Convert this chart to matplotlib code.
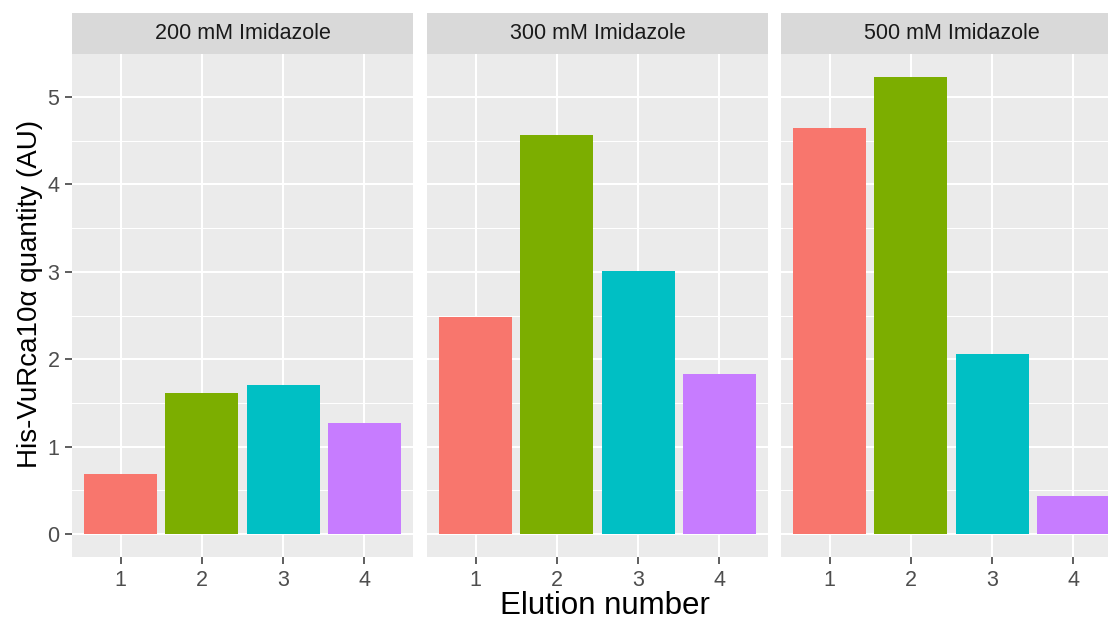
import numpy as np
import matplotlib
matplotlib.use("Agg")
import matplotlib.pyplot as plt

plt.rcParams['font.family'] = ['Liberation Sans', 'DejaVu Sans']

# data
panels = ['200 mM Imidazole', '300 mM Imidazole', '500 mM Imidazole']
elution = [1, 2, 3, 4]
vals_200 = [0.69, 1.61, 1.71, 1.27]
vals_300 = [2.48, 4.56, 3.01, 1.83]
vals_500 = [4.64, 5.23, 2.06, 0.44]
bar_colors = ['#F8766D', '#7CAE00', '#00BFC4', '#C77CFF']

all_vals = [vals_200, vals_300, vals_500]

W, H = 1108, 619
fig = plt.figure(figsize=(W / 100, H / 100), dpi=100)
fig.patch.set_facecolor('white')

# ggplot-like expansion
ymax = max(max(v) for v in all_vals)
pad = 0.05 * ymax
ylim = (-pad, ymax + pad)

panel_left = [72, 427, 781]
panel_w = 341
panel_top = 54
panel_bot = 557
strip_top = 13

for i, (title, vals) in enumerate(zip(panels, all_vals)):
    l = panel_left[i] / W
    b = 1 - panel_bot / H
    ax = fig.add_axes([l, b, panel_w / W, (panel_bot - panel_top) / H])
    ax.set_facecolor('#EBEBEB')
    ax.bar(elution, vals, width=0.9, color=bar_colors, zorder=3)
    ax.set_xlim(0.4, 4.6)
    ax.set_ylim(*ylim)
    ax.set_xticks(elution)
    ax.set_xticklabels([str(e) for e in elution])
    ax.set_yticks(range(0, 6))
    ax.set_yticks(np.arange(0.5, 5.5, 1.0), minor=True)
    ax.grid(which='major', color='white', linewidth=1.5, zorder=0)
    ax.grid(which='minor', axis='y', color='white', linewidth=0.75, zorder=0)
    ax.set_axisbelow(True)
    for s in ax.spines.values():
        s.set_visible(False)
    ax.tick_params(axis='both', which='major', length=5, width=1.1,
                   color='#333333', labelcolor='#4D4D4D', labelsize=15.5, pad=4)
    ax.tick_params(axis='both', which='minor', length=0)
    if i > 0:
        ax.tick_params(axis='y', which='major', length=0, labelleft=False)

    # facet strip
    sax = fig.add_axes([l, 1 - panel_top / H, panel_w / W, (panel_top - strip_top) / H])
    sax.set_facecolor('#D9D9D9')
    sax.set_xticks([])
    sax.set_yticks([])
    for s in sax.spines.values():
        s.set_visible(False)
    sax.text(0.5, 0.5, title, ha='center', va='center', fontsize=15.5,
             color='#1A1A1A', transform=sax.transAxes)

fig.text(605 / W, 1 - 606 / H, 'Elution number', ha='center', va='center', fontsize=22.5)
fig.text(30 / W, 1 - 294 / H, 'His-VuRca10α quantity (AU)', ha='center', va='center',
         rotation=90, fontsize=20)

fig.savefig('out.png', dpi=100)
